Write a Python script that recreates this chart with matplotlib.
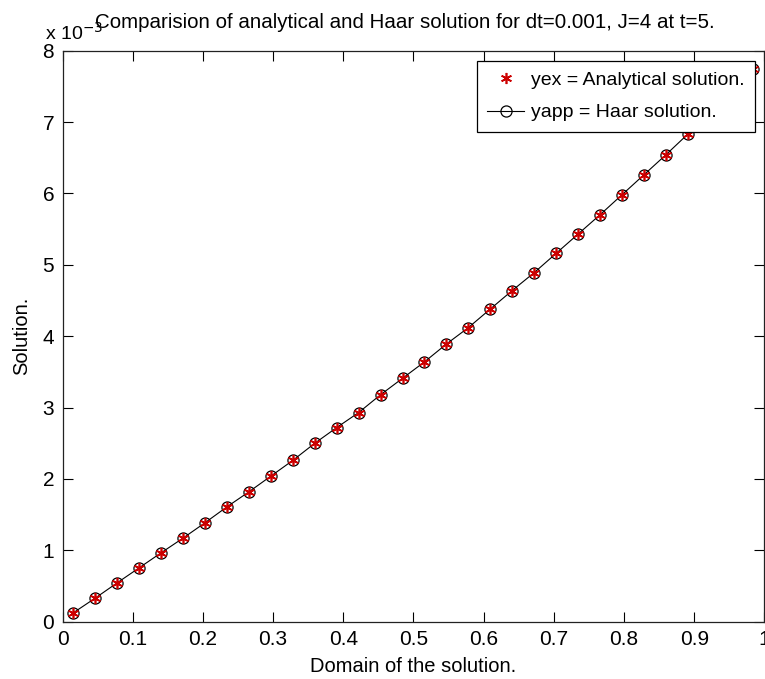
import matplotlib
matplotlib.use("Agg")
import matplotlib.pyplot as plt
import numpy as np

plt.rcParams['font.family'] = ['Liberation Sans', 'DejaVu Sans']

# Data (solution values in units of 1e-3)
x_points = [(2 * k - 1) / 64 for k in range(1, 33)]
y_milli = [0.126, 0.332, 0.546, 0.756, 0.966, 1.172, 1.387, 1.61, 1.82, 2.04,
           2.26, 2.50, 2.72, 2.93, 3.18, 3.41, 3.64, 3.89, 4.12, 4.38,
           4.64, 4.89, 5.16, 5.43, 5.70, 5.98, 6.26, 6.54, 6.83, 7.12,
           7.43, 7.75]
yex = [v * 1e-3 for v in y_milli]
yapp = [v * 1e-3 for v in y_milli]
x_ticks = [0, 0.1, 0.2, 0.3, 0.4, 0.5, 0.6, 0.7, 0.8, 0.9, 1]
x_tick_labels = ["0", "0.1", "0.2", "0.3", "0.4", "0.5", "0.6", "0.7", "0.8", "0.9", "1"]
y_ticks = [0, 1, 2, 3, 4, 5, 6, 7, 8]

fig = plt.figure(figsize=(7.65, 6.79), dpi=100)
ax = fig.add_axes([0.0817, 0.0844, 0.9176, 0.8409])

ax.plot(x_points, yex, linestyle='none', marker=(6, 2, 0), color='#cc0000',
        markeredgecolor='#cc0000', markersize=8, markeredgewidth=1.2,
        label='yex = Analytical solution.', zorder=3)
ax.plot(x_points, yapp, linestyle='-', color='black', linewidth=0.8,
        marker='o', markerfacecolor='none', markeredgecolor='black',
        markersize=8, markeredgewidth=0.9, label='yapp = Haar solution.', zorder=2)

ax.set_xlim(0, 1)
ax.set_ylim(0, 8e-3)
ax.set_xticks(x_ticks)
ax.set_xticklabels(x_tick_labels)
ax.set_yticks([t * 1e-3 for t in y_ticks])
ax.set_yticklabels([str(t) for t in y_ticks])
ax.tick_params(direction='in', top=True, right=True, length=7, width=0.8,
               labelsize=15, pad=6)
for s in ax.spines.values():
    s.set_linewidth(0.9)
    s.set_color('#222222')

ax.text(-0.025, 1.012, r'x 10$^{-3}$', transform=ax.transAxes, fontsize=14,
        ha='left', va='bottom')
ax.set_title('Comparision of analytical and Haar solution for dt=0.001, J=4 at t=5.',
             fontsize=14.8, pad=16, loc='left', x=0.047)
ax.set_xlabel('Domain of the solution.', fontsize=14.5, labelpad=6)
ax.set_ylabel('Solution.', fontsize=14.5, labelpad=8)

leg = ax.legend(loc='upper right', bbox_to_anchor=(0.987, 0.982), fontsize=14,
                fancybox=False, edgecolor='black', framealpha=1,
                handlelength=1.9, handletextpad=0.35, borderpad=0.55,
                labelspacing=0.75, borderaxespad=0)
leg.get_frame().set_linewidth(0.9)

fig.savefig('out.png', dpi=100)
